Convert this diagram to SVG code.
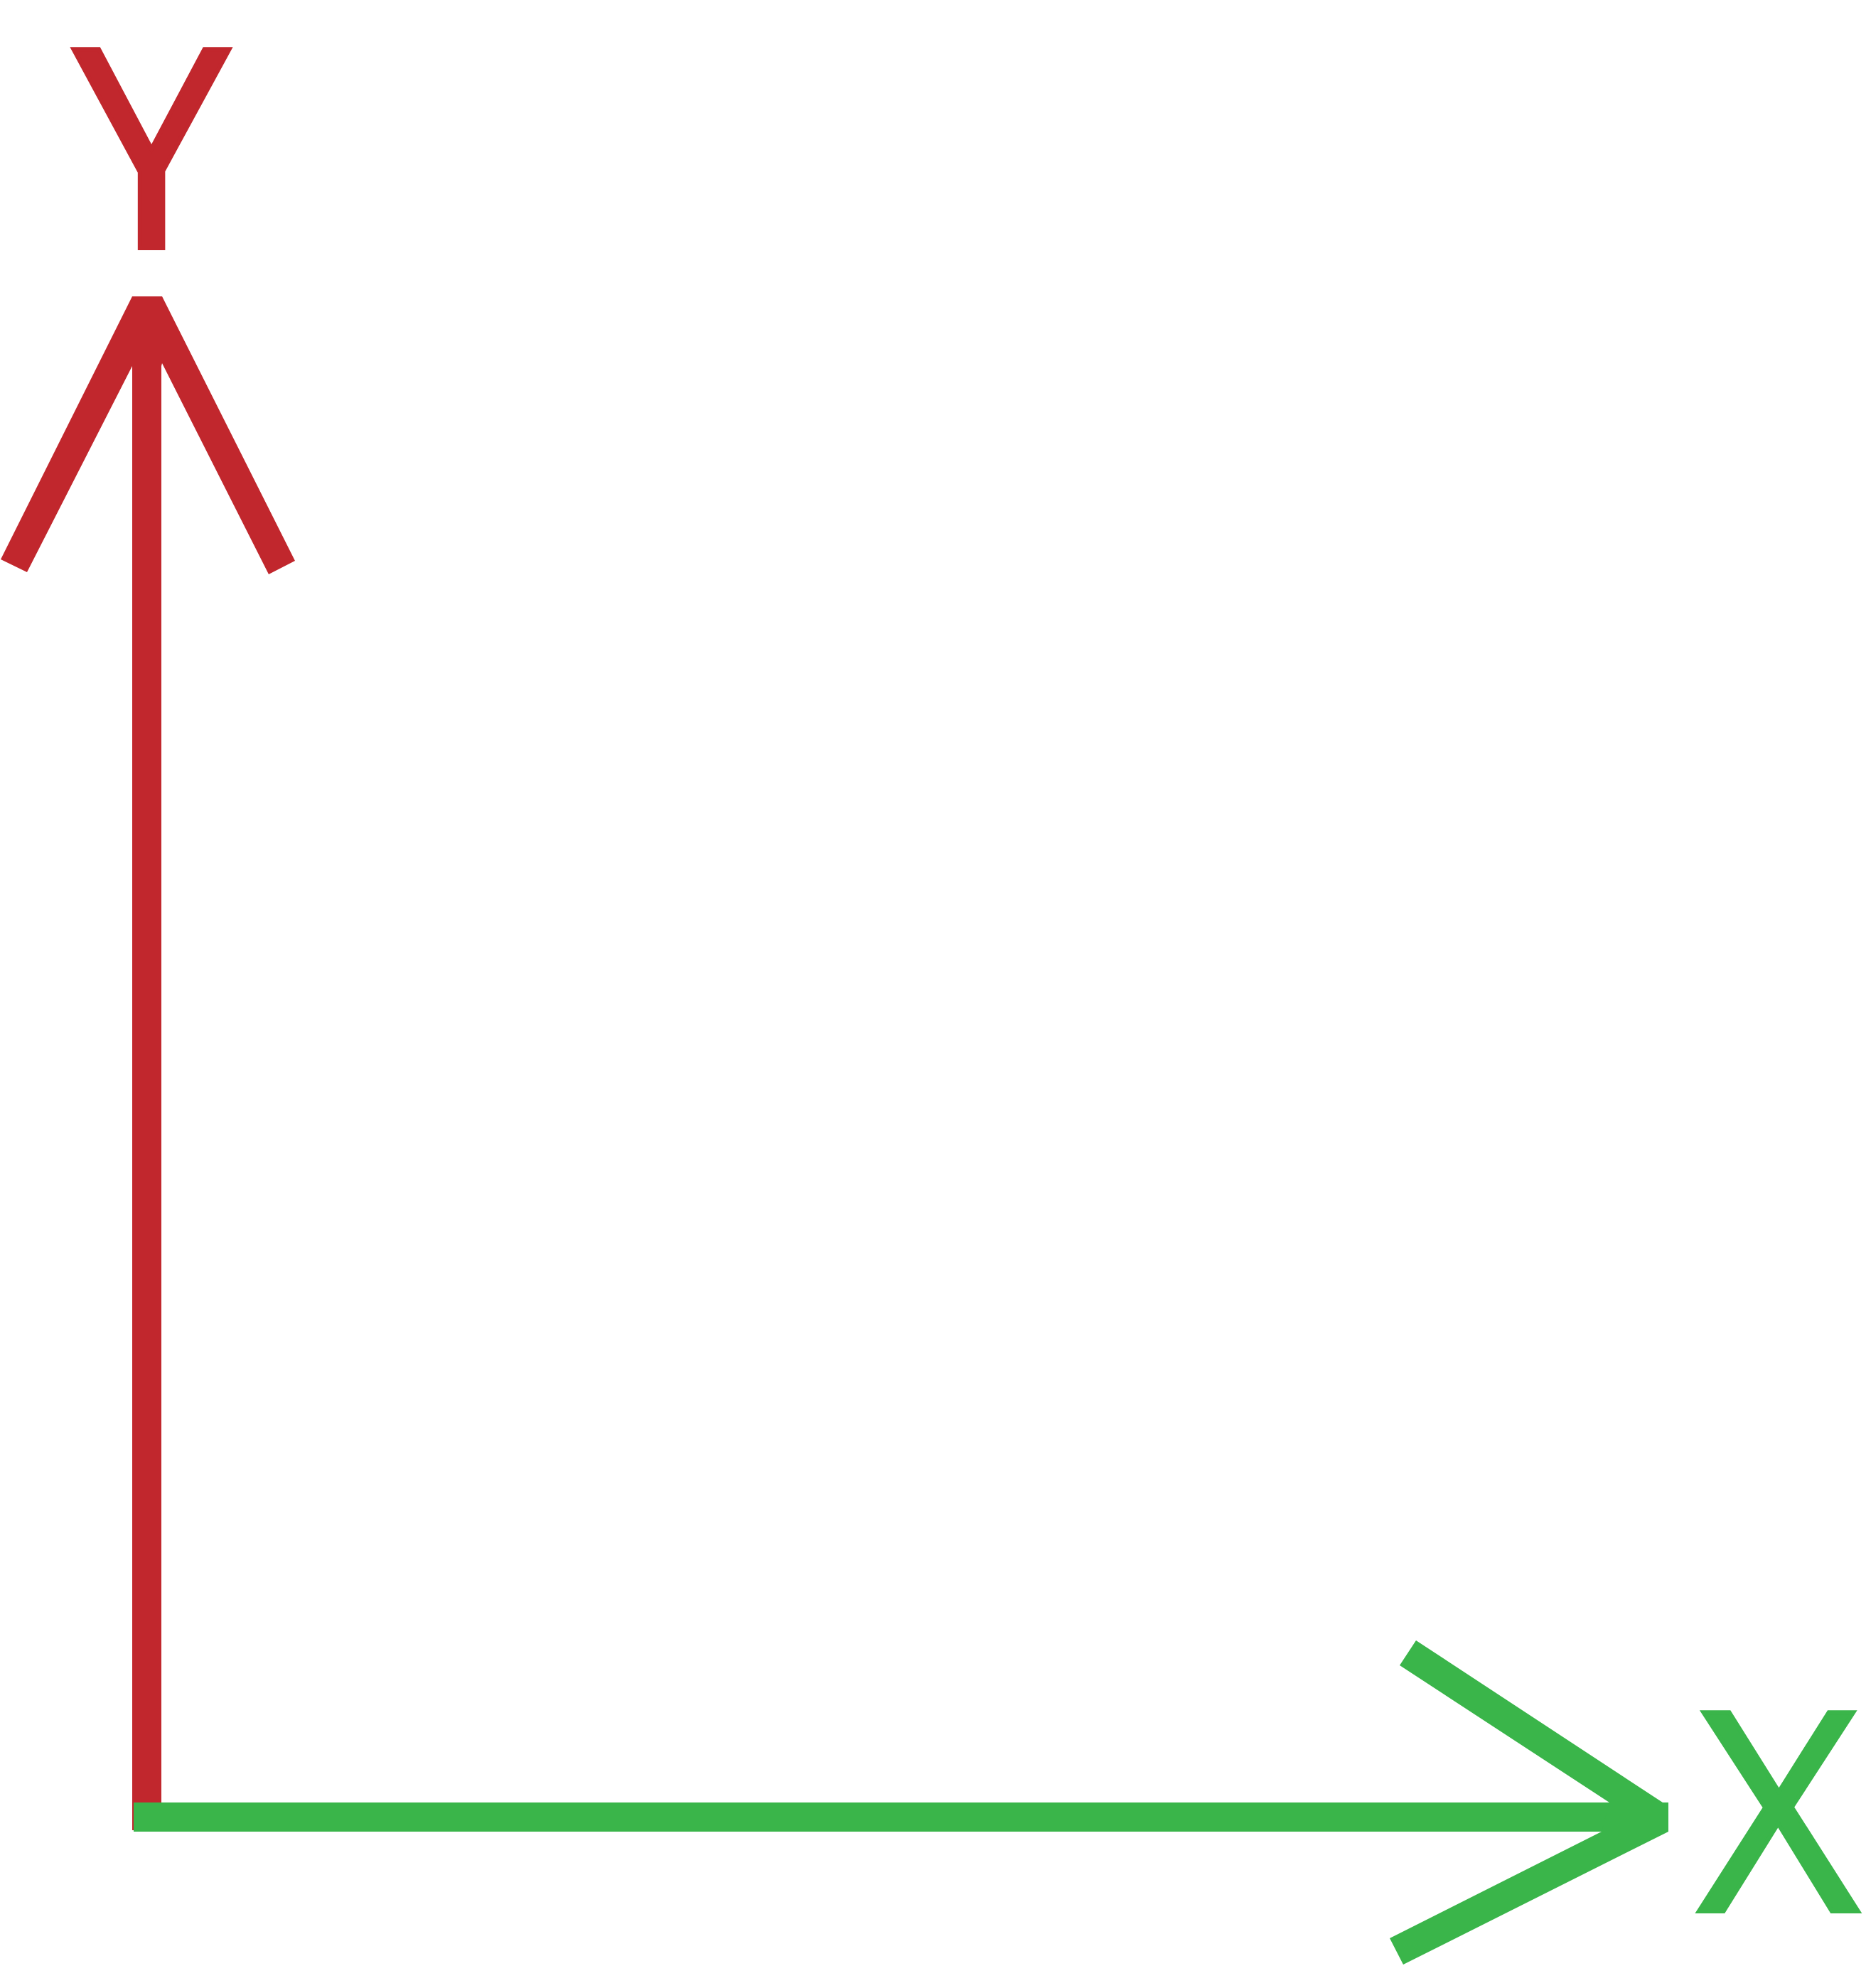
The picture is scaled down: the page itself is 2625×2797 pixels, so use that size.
<svg xmlns="http://www.w3.org/2000/svg" width="2625" height="2797" viewBox="0 0 2625 2797">
  <style>
    .lbl { font-family: "Open Sans", "Noto Sans", "Liberation Sans", sans-serif; font-size: 392px; text-anchor: middle; stroke-width: 6px; stroke-linejoin: miter; }
    .red { fill: #C1272D; }
    .green { fill: #3AB54A; }
    text.red { stroke: #C1272D; }
    text.green { stroke: #3AB54A; }
  </style>
  <rect width="2625" height="2797" fill="#FFFFFF"/>
  <g id="connectors">
    <g id="y-axis">
      <rect class="red" x="186" y="417" width="41" height="2158"/>
      <path class="red" d="M1,787 L186,417 L228,417 L415,789 L378,808 L228,511 L227,515 L186,515 L38,805 Z"/>
    </g>
    <g id="x-axis">
      <rect class="green" x="188" y="2536" width="2159" height="41"/>
      <path class="green" d="M1992,2308 L2339,2536 L2347,2536 L2347,2577 L1974,2764 L1955,2727 L2253,2577 L2264,2536 L1969,2343 Z"/>
    </g>
  </g>
  <g id="label-y">
    <text class="lbl red" x="213" y="349">Y</text>
  </g>
  <g id="label-x">
    <text class="lbl green" x="2502" y="2689">X</text>
  </g>
</svg>
